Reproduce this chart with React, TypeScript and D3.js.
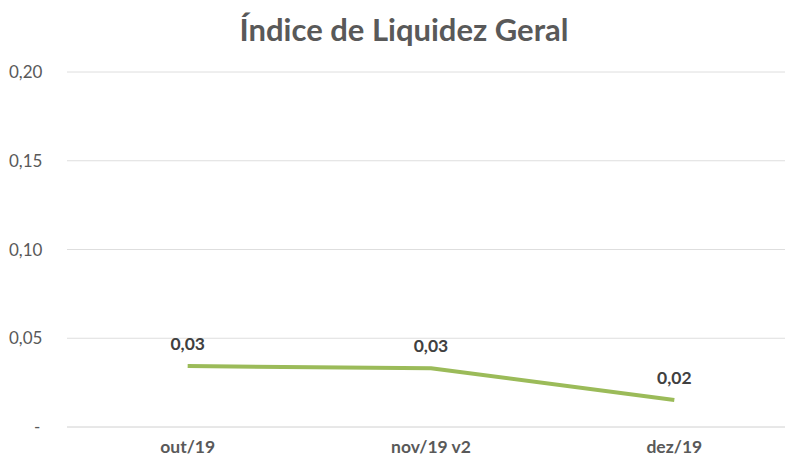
import React from "react";
import * as d3 from "d3";

const categories = ["out/19", "nov/19 v2", "dez/19"];
const values = [0.0343, 0.0331, 0.0152];
const yTicks = [0, 0.05, 0.1, 0.15, 0.2];

const W = 785;
const H = 457;
const FONT = "Lato, 'Open Sans', sans-serif";

export default function App() {
  const x = d3.scaleBand<string>().domain(categories).range([66, 796]);
  const y = d3.scaleLinear().domain([0, 0.2]).range([427, 72]);
  const fmt = (v: number) => (v === 0 ? "-" : d3.format(".2f")(v).replace(".", ","));
  const line = d3
    .line<number>()
    .x((_, i) => (x(categories[i]) as number) + x.bandwidth() / 2)
    .y((d) => y(d));

  return (
    <svg width={W} height={H} style={{ position: "absolute", left: 0, top: 0 }}>
      <rect width={W} height={H} fill="#fff" />
      <text x={404} y={41} textAnchor="middle" fontFamily={FONT} fontWeight="bold" fontSize={31} fill="#595959">
        Índice de Liquidez Geral
      </text>
      {yTicks.map((t) => (
        <g key={t}>
          <line x1={67} x2={785} y1={y(t)} y2={y(t)} stroke={t === 0 ? "#d0d0d0" : "#dedede"} strokeWidth={1} />
          <text x={t === 0 ? 34 : 9} y={y(t) + 6} fontFamily={FONT} fontSize={17} fill="#595959">
            {fmt(t)}
          </text>
        </g>
      ))}
      {categories.map((c) => (
        <text key={c} x={(x(c) as number) + x.bandwidth() / 2} y={453} textAnchor="middle" fontFamily={FONT} fontWeight="bold" fontSize={17.5} fill="#595959">
          {c}
        </text>
      ))}
      <path d={line(values) || ""} fill="none" stroke="#9BBB59" strokeWidth={4} strokeLinejoin="round" />
      {values.map((v, i) => (
        <text key={i} x={(x(categories[i]) as number) + x.bandwidth() / 2} y={y(v) - 16} textAnchor="middle" fontFamily={FONT} fontWeight="bold" fontSize={17.5} fill="#404040">
          {fmt(v)}
        </text>
      ))}
    </svg>
  );
}
